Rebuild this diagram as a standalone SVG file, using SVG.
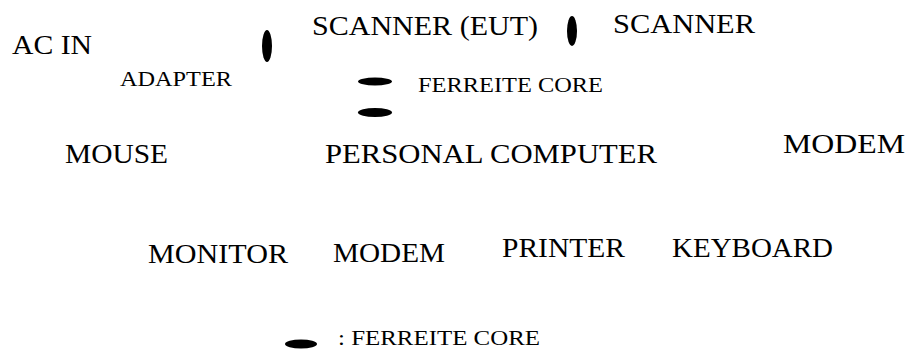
<svg xmlns="http://www.w3.org/2000/svg" width="912" height="352" viewBox="0 0 912 352">
<style>
text{font-family:"Liberation Serif","Times New Roman",serif;fill:#000}
.big{font-size:28px}
.small{font-size:21px}
.core{fill:#000}
</style>
<rect width="912" height="352" fill="#fff"/>
<g id="connectors"/>
<g id="ac-in"><text class="big" x="12" y="54" textLength="80" lengthAdjust="spacingAndGlyphs">AC IN</text></g>
<g id="adapter"><text class="small" x="120" y="86" textLength="112" lengthAdjust="spacingAndGlyphs">ADAPTER</text></g>
<g id="core-1"><ellipse class="core" cx="267" cy="46" rx="5" ry="16"/></g>
<g id="scanner-eut"><text class="big" x="312" y="35" textLength="226" lengthAdjust="spacingAndGlyphs">SCANNER (EUT)</text></g>
<g id="core-2"><ellipse class="core" cx="572" cy="31" rx="5" ry="15"/></g>
<g id="scanner"><text class="big" x="613" y="33" textLength="142" lengthAdjust="spacingAndGlyphs">SCANNER</text></g>
<g id="core-3"><ellipse class="core" cx="375" cy="81.5" rx="17" ry="4"/></g>
<g id="core-4"><ellipse class="core" cx="375" cy="112.5" rx="17" ry="4.5"/></g>
<g id="core-label"><text class="small" x="418" y="92" textLength="185" lengthAdjust="spacingAndGlyphs">FERREITE CORE</text></g>
<g id="mouse"><text class="big" x="65" y="163" textLength="103" lengthAdjust="spacingAndGlyphs">MOUSE</text></g>
<g id="personal-computer"><text class="big" x="325" y="163" textLength="332" lengthAdjust="spacingAndGlyphs">PERSONAL COMPUTER</text></g>
<g id="modem-1"><text class="big" x="783" y="153" textLength="122" lengthAdjust="spacingAndGlyphs">MODEM</text></g>
<g id="monitor"><text class="big" x="148" y="263" textLength="140" lengthAdjust="spacingAndGlyphs">MONITOR</text></g>
<g id="modem-2"><text class="big" x="333" y="262" textLength="112" lengthAdjust="spacingAndGlyphs">MODEM</text></g>
<g id="printer"><text class="big" x="502" y="257" textLength="123" lengthAdjust="spacingAndGlyphs">PRINTER</text></g>
<g id="keyboard"><text class="big" x="672" y="257" textLength="161" lengthAdjust="spacingAndGlyphs">KEYBOARD</text></g>
<g id="legend">
<ellipse class="core" cx="301" cy="344" rx="16" ry="4.5"/>
<text class="small" x="338" y="345" textLength="202" lengthAdjust="spacingAndGlyphs">: FERREITE CORE</text>
</g>
</svg>
